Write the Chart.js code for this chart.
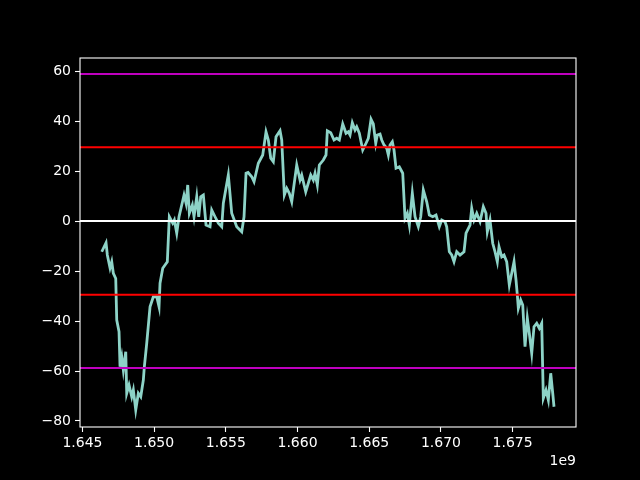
<!DOCTYPE html>
<html>
<head>
<meta charset="utf-8">
<script src="https://cdn.jsdelivr.net/npm/chart.js@4/dist/chart.umd.min.js"></script>
<style>
  html, body { margin: 0; padding: 0; background: #000; }
  #wrap { width: 640px; height: 480px; }
</style>
</head>
<body>
<div id="wrap"><canvas id="chart" width="640" height="480"></canvas></div>
<script>
// Datos (x = timestamp en segundos)
const xs = [
  1646.346e6, 1646.646e6, 1646.736e6, 1646.925e6, 1647.043e6, 1647.155e6, 1647.322e6, 1647.392e6,
  1647.552e6, 1647.622e6, 1647.741e6, 1647.852e6, 1648.020e6, 1648.089e6, 1648.250e6, 1648.438e6,
  1648.550e6, 1648.717e6, 1648.898e6, 1649.066e6, 1649.247e6, 1649.317e6, 1649.484e6, 1649.714e6,
  1649.944e6, 1650.181e6, 1650.342e6, 1650.411e6, 1650.600e6, 1650.760e6, 1650.920e6, 1651.060e6,
  1651.297e6, 1651.409e6, 1651.576e6, 1651.736e6, 1651.925e6, 1652.085e6, 1652.224e6, 1652.343e6,
  1652.455e6, 1652.664e6, 1652.782e6, 1652.971e6, 1653.110e6, 1653.250e6, 1653.431e6, 1653.619e6,
  1653.898e6, 1654.017e6, 1654.247e6, 1654.477e6, 1654.714e6, 1654.826e6, 1655.174e6, 1655.411e6,
  1655.760e6, 1656.109e6, 1656.269e6, 1656.409e6, 1656.550e6, 1656.806e6, 1656.967e6, 1657.266e6,
  1657.573e6, 1657.803e6, 1657.964e6, 1658.131e6, 1658.312e6, 1658.501e6, 1658.780e6, 1658.898e6,
  1659.080e6, 1659.247e6, 1659.428e6, 1659.596e6, 1659.944e6, 1660.174e6, 1660.293e6, 1660.572e6,
  1660.920e6, 1661.101e6, 1661.220e6, 1661.381e6, 1661.520e6, 1661.799e6, 1661.987e6, 1662.078e6,
  1662.315e6, 1662.545e6, 1662.734e6, 1662.915e6, 1663.152e6, 1663.382e6, 1663.543e6, 1663.661e6,
  1663.821e6, 1664.010e6, 1664.128e6, 1664.310e6, 1664.547e6, 1664.777e6, 1664.937e6, 1665.126e6,
  1665.286e6, 1665.454e6, 1665.565e6, 1665.753e6, 1665.872e6, 1666.032e6, 1666.220e6, 1666.332e6,
  1666.451e6, 1666.611e6, 1666.729e6, 1666.869e6, 1667.099e6, 1667.336e6, 1667.497e6, 1667.657e6,
  1667.797e6, 1668.006e6, 1668.194e6, 1668.424e6, 1668.591e6, 1668.773e6, 1669.010e6, 1669.191e6,
  1669.428e6, 1669.658e6, 1669.888e6, 1670.056e6, 1670.286e6, 1670.404e6, 1670.586e6, 1670.753e6,
  1670.913e6, 1671.102e6, 1671.332e6, 1671.611e6, 1671.750e6, 1672.029e6, 1672.148e6, 1672.308e6,
  1672.497e6, 1672.727e6, 1672.957e6, 1673.145e6, 1673.236e6, 1673.423e6, 1673.612e6, 1673.772e6,
  1673.933e6, 1674.051e6, 1674.240e6, 1674.400e6, 1674.588e6, 1674.770e6, 1674.937e6, 1675.098e6,
  1675.237e6, 1675.328e6, 1675.398e6, 1675.565e6, 1675.705e6, 1675.865e6, 1676.025e6, 1676.165e6,
  1676.332e6, 1676.492e6, 1676.681e6, 1676.862e6, 1677.029e6, 1677.141e6, 1677.330e6, 1677.490e6,
  1677.657e6, 1677.797e6, 1677.887e6
];
const ys = [
  -12.3, -8.7, -13.6, -18.8, -16.3, -20.9, -23.0, -39.6,
  -44.3, -58.3, -54.3, -59.6, -52.3, -68.9, -65.6, -70.3,
  -67.6, -75.6, -68.9, -70.3, -63.6, -58.3, -48.9, -34.3,
  -30.3, -30.3, -34.3, -24.9, -18.9, -17.6, -16.3, 1.7,
  -0.9, 0.4, -4.9, 1.7, 6.4, 10.4, 7.1, 14.4,
  3.1, 6.4, 1.7, 9.7, 1.7, 9.7, 10.4, -1.6,
  -2.3, 4.4, 1.7, -0.9, -2.3, 7.1, 18.4, 3.1,
  -2.3, -4.3, 1.7, 19.1, 19.4, 17.7, 15.7, 23.1,
  26.4, 35.7, 32.4, 25.1, 23.7, 33.7, 36.1, 32.4,
  10.4, 13.1, 11.1, 7.7, 22.4, 16.4, 18.4, 11.7,
  18.4, 16.4, 19.1, 14.4, 22.4, 24.4, 26.4, 36.1,
  35.3, 32.4, 33.1, 32.4, 38.8, 35.1, 35.7, 34.4,
  39.3, 36.4, 37.7, 35.1, 28.4, 31.1, 33.1, 40.7,
  38.8, 31.1, 34.4, 34.8, 32.4, 30.4, 29.1, 26.4,
  30.4, 31.7, 28.4, 21.1, 21.7, 19.1, 1.1, 3.1,
  -1.6, 11.1, 1.7, -2.3, 1.7, 12.4, 7.7, 2.4,
  1.7, 2.4, -2.3, 0.4, -0.3, -2.3, -12.3, -13.6,
  -16.3, -12.3, -13.6, -12.3, -4.9, -1.6, 5.1, 0.4,
  3.1, -0.3, 5.7, 3.1, -4.3, 0.4, -8.9, -12.3,
  -16.3, -10.3, -14.3, -13.6, -16.3, -25.6, -20.9, -16.3,
  -23.6, -29.6, -34.9, -31.6, -33.6, -50.3, -38.9, -44.9,
  -52.9, -42.3, -40.9, -42.9, -40.9, -70.9, -67.6, -71.6,
  -60.9, -68.9, -74.3
];

// Líneas horizontales
const hLevels = [58.8, 29.5, 0, -29.5, -58.8];
const hColors = ['#bf00bf', '#ff0000', '#ffffff', '#ff0000', '#bf00bf'];

// Ejes
const xMin = 1644.83e6, xMax = 1679.42e6;
const yMin = -82.4, yMax = 65.2;
const xTicks = [1.645e9, 1.650e9, 1.655e9, 1.660e9, 1.665e9, 1.670e9, 1.675e9];
const yTicks = [-80, -60, -40, -20, 0, 20, 40, 60];

const fontTicks = { family: 'DejaVu Sans', size: 14 };

// Fondo negro + marco + texto "1e9"
const extras = {
  id: 'extras',
  beforeDraw(chart) {
    const c = chart.ctx;
    c.save();
    c.fillStyle = '#000';
    c.fillRect(0, 0, chart.width, chart.height);
    c.restore();
  },
  afterDraw(chart) {
    const c = chart.ctx;
    const a = chart.chartArea;
    c.save();
    c.strokeStyle = '#fff';
    c.lineWidth = 1.1;
    c.strokeRect(a.left, a.top, a.right - a.left, a.bottom - a.top);
    c.fillStyle = '#fff';
    c.font = '14px "DejaVu Sans"';
    c.textAlign = 'right';
    c.textBaseline = 'middle';
    c.fillText('1e9', a.right, 461);
    c.restore();
  }
};

const hDatasets = hLevels.map((lv, i) => ({
  data: [{ x: xMin, y: lv }, { x: xMax, y: lv }],
  borderColor: hColors[i],
  borderWidth: 2,
  pointRadius: 0
}));

new Chart(document.getElementById('chart'), {
  type: 'line',
  data: {
    datasets: [
      ...hDatasets,
      {
        data: xs.map((x, i) => ({ x: x, y: ys[i] })),
        borderColor: '#8dd3c7',
        borderWidth: 2.8,
        pointRadius: 0,
        tension: 0
      }
    ]
  },
  options: {
    responsive: false,
    animation: false,
    parsing: false,
    layout: { padding: { top: 58, right: 64, left: 0, bottom: 0 } },
    plugins: { legend: { display: false }, tooltip: { enabled: false } },
    scales: {
      x: {
        type: 'linear',
        min: xMin,
        max: xMax,
        afterFit: s => { s.height = 53; },
        afterBuildTicks: s => { s.ticks = xTicks.map(v => ({ value: v })); },
        grid: { drawOnChartArea: false, color: '#fff', tickLength: 5, tickWidth: 1.1 },
        border: { display: false },
        ticks: {
          color: '#fff',
          font: fontTicks,
          padding: 3,
          maxRotation: 0,
          autoSkip: false,
          callback: v => (v / 1e9).toFixed(3)
        }
      },
      y: {
        min: yMin,
        max: yMax,
        afterFit: s => { s.width = 80; },
        afterBuildTicks: s => { s.ticks = yTicks.map(v => ({ value: v })); },
        grid: { drawOnChartArea: false, color: '#fff', tickLength: 5, tickWidth: 1.1 },
        border: { display: false },
        ticks: {
          color: '#fff',
          font: fontTicks,
          padding: 4,
          autoSkip: false,
          callback: v => (v < 0 ? '\u2212' + Math.abs(v) : String(v))
        }
      }
    }
  },
  plugins: [extras]
});
</script>
</body>
</html>
